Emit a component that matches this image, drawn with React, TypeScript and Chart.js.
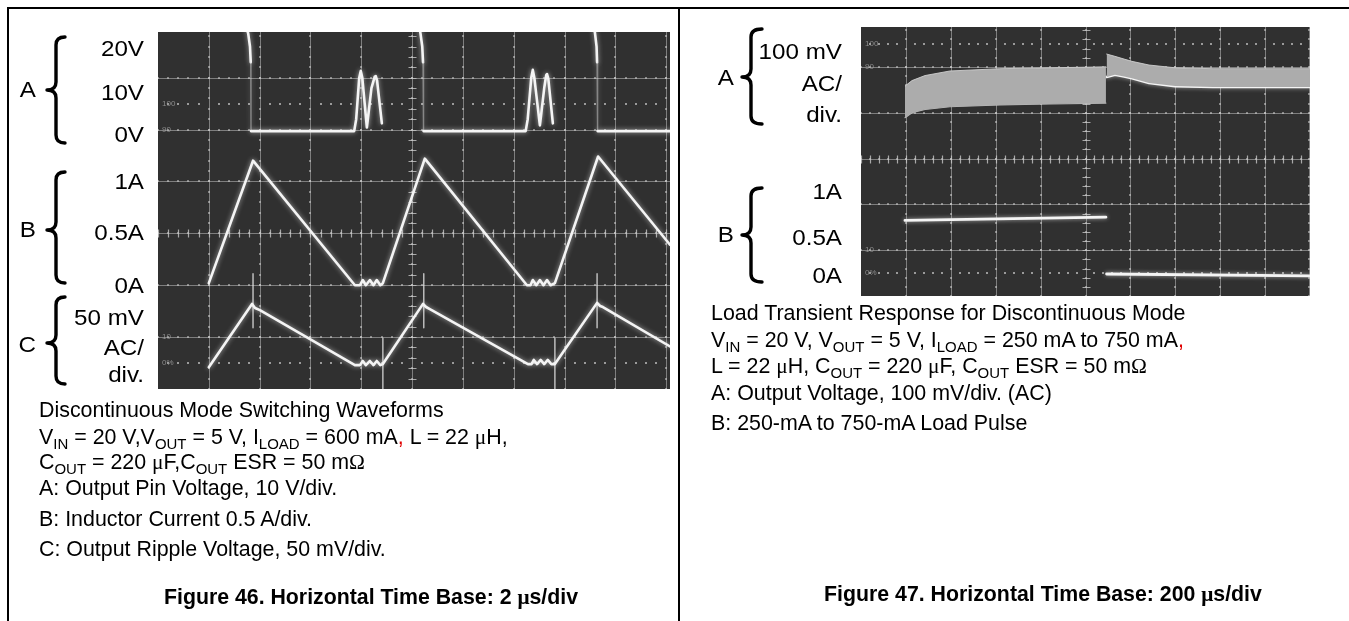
import React, { useEffect, useRef } from "react";
import { Chart, registerables } from "chart.js";

Chart.register(...registerables);

const SANS = '"Liberation Sans", Arial, Helvetica, sans-serif';
const SERIF = '"Liberation Serif", "DejaVu Serif", serif';

// ================= Figure 46 (2 µs/div) =================
const fig46GridTimes = [2, 4, 6, 8, 10, 12, 14, 16, 18, 20];
const fig46GridDivs = [1, 2, 3, 4, 5, 6];
const fig46MarkerDivs = [0.5, 5.5];
const fig46MarkerLabels = ["100", "90", "10", "0%"];
const fig46MarkerLabelDivs = [5.5, 5, 1, 0.5];

// A: output pin voltage (V), 10 V/div
const fig46PinTime = [3.40, 3.55, 3.62, 3.65, 3.66, 7.72, 7.80, 7.92, 7.98, 8.04, 8.22, 8.40, 8.53, 8.57, 8.62, 8.81, 9.5,
  10.25, 10.33, 10.40, 10.43, 10.45, 14.47, 14.55, 14.69, 14.75, 14.81, 15.03, 15.20, 15.28, 15.31, 15.36, 15.54, 16.3,
  17.12, 17.20, 17.26, 17.28, 17.30, 20.30];
const fig46PinVolts = [21, 18.5, 16, 13, -0.3, -0.3, 2, 10, 11.3, 10, 0.4, 8, 10.2, 10.3, 9.5, 1.2, null,
  21, 18.5, 16, 13, -0.3, -0.3, 2, 10, 11.5, 10, 0.8, 8, 10.5, 10.7, 9.8, 1.2, null,
  21, 18.5, 16, 13, -0.3, -0.3];

// B: inductor current (A), 0.5 A/div
const fig46CoilTime = [2.00, 3.74, 7.75, 7.95, 8.06, 8.18, 8.34, 8.48, 8.61, 8.75, 8.85, 10.50, 14.52, 14.66, 14.75, 14.89, 15.03, 15.17, 15.31, 15.45, 15.62, 17.32, 20.15];
const fig46CoilAmps = [0.02, 1.20, 0.00, 0.00, 0.05, 0.00, 0.05, 0.00, 0.05, 0.00, 0.02, 1.22, 0.00, 0.00, 0.05, 0.00, 0.05, 0.00, 0.05, 0.00, 0.02, 1.24, 0.39];

// C: output ripple (mV), 50 mV/div AC
const fig46RippleTime = [2.00, 3.70, 3.82, 4.01, 7.75, 7.95, 8.06, 8.18, 8.34, 8.48, 8.61, 8.75, 8.85, 10.43, 10.55, 10.70, 14.56, 14.70, 14.79, 14.92, 15.06, 15.20, 15.34, 15.48, 15.62, 17.28, 17.40, 17.51, 20.15];
const fig46RippleMv = [-29, 32, 28, 26, -27, -27, -23, -27, -23, -27, -23, -27, -26, 32, 29, 27, -26, -26, -22, -26, -22, -26, -22, -26, -26, 33, 30, 29, -9];
const fig46SpikeTime = [3.74, 3.74, 6.0, 8.85, 8.85, 9.5, 10.46, 10.46, 12.0, 15.62, 15.62, 16.5, 17.28, 17.28];
const fig46SpikeMv = [61, 9, null, -1, -52, null, 61, 9, null, -1, -52, null, 61, 9];

const fig46TimePerDiv = 2;
const fig46TimeMax = 20.15;
const fig46TopDiv = 6.88;
const fig46PinPerDiv = 10, fig46PinZero = 5;
const fig46CoilPerDiv = 0.5, fig46CoilZero = 2;
const fig46RipplePerDiv = 50, fig46RippleZero = 1;

// ================= Figure 47 (200 µs/div) =================
const fig47GridTimes = [200, 400, 600, 800, 1000, 1200, 1400, 1600, 1800, 2000];
const fig47GridDivs = [1, 2, 3, 4, 5];
const fig47MarkerDivs = [0.5, 5.5];
const fig47MarkerLabels = ["100", "90", "10", "0%"];
const fig47MarkerLabelDivs = [5.5, 5, 1, 0.5];

// A: output voltage (mV), 100 mV/div AC — ripple envelope
const fig47StepTime1 = [196, 227, 285, 396, 619, 842, 1091];
const fig47RippleHigh1 = [8, 20, 31, 41, 46, 48, 50];
const fig47RippleLow1 = [-61, -50, -43, -37, -33, -31, -29];
const fig47StepTime2 = [1094, 1131, 1172, 1207, 1283, 1399, 1568, 2000];
const fig47RippleHigh2 = [78, 73, 67, 62, 54, 48, 46, 46];
const fig47RippleLow2 = [28, 33, 29, 25, 15, 8, 6, 6];

// B: load current (A), 0.5 A/div
const fig47LoadTime = [196, 1091, 1092, 1094, 2000];
const fig47LoadAmps = [0.70, 0.735, null, 0.115, 0.095];

const fig47TimePerDiv = 200;
const fig47TimeMax = 2000;
const fig47TopDiv = 5.87;
const fig47RipplePerDiv = 100, fig47RippleZero = 4.5;
const fig47LoadPerDiv = 0.5, fig47LoadZero = 0.25;

// ================= helpers =================
function pts(t: number[], v: (number | null)[]) {
  return t.map((x, i) => ({ x, y: v[i] }));
}

const TRACE = "#f4f4f4";

const glowPlugin = {
  id: "glow",
  beforeDatasetDraw(chart: any, args: any) {
    const ds = chart.data.datasets[args.index];
    chart.ctx.save();
    if (ds.glow) {
      chart.ctx.shadowColor = "rgba(255,255,255,0.6)";
      chart.ctx.shadowBlur = ds.glow;
    }
  },
  afterDatasetDraw(chart: any) {
    chart.ctx.restore();
  },
};

const scopeGridPlugin = {
  id: "scopeGrid",
  beforeDatasetsDraw(chart: any, _a: any, o: any) {
    const { ctx, chartArea: a, scales } = chart;
    const xs = scales.x;
    const yd = scales.yDiv;
    ctx.save();
    ctx.fillStyle = o.background;
    ctx.fillRect(a.left, a.top, a.right - a.left, a.bottom - a.top);
    const X = (v: number) => Math.min(a.right - 1, Math.round(xs.getPixelForValue(v))) + 0.5;
    const Y = (v: number) => Math.max(a.top, Math.round(yd.getPixelForValue(v))) + 0.5;
    ctx.strokeStyle = o.lineColor;
    ctx.lineWidth = 1;
    ctx.beginPath();
    for (const t of o.xLines) { const px = X(t); ctx.moveTo(px, a.top); ctx.lineTo(px, a.bottom); }
    for (const d of o.yLines) { const py = Y(d); ctx.moveTo(a.left, py); ctx.lineTo(a.right, py); }
    ctx.stroke();
    const tStep = o.timePerDiv / 5;
    const nT = Math.floor(xs.max / tStep + 1e-6);
    const nD = Math.floor(yd.max / 0.2 + 1e-6);
    ctx.fillStyle = o.dotColor;
    for (const d of o.yLines) {
      const py = Y(d);
      for (let i = 0; i <= nT; i++) ctx.fillRect(Math.round(xs.getPixelForValue(i * tStep)) - 1, py - 1.5, 2, 2);
    }
    for (const t of o.xLines) {
      const px = X(t);
      for (let i = 0; i <= nD; i++) ctx.fillRect(px - 1.5, Math.round(yd.getPixelForValue(i * 0.2)) - 1, 2, 2);
    }
    const cx = X(o.centerTime);
    const cy = Y(o.centerDiv);
    ctx.strokeStyle = o.axisColor;
    ctx.lineWidth = 1.2;
    ctx.beginPath();
    for (let i = 0; i <= nD; i++) {
      const py = Math.round(yd.getPixelForValue(i * 0.2)) + 0.5;
      ctx.moveTo(cx - 4, py); ctx.lineTo(cx + 4, py);
    }
    for (let i = 0; i <= nT; i++) {
      const px = Math.round(xs.getPixelForValue(i * tStep)) + 0.5;
      ctx.moveTo(px, cy - 4); ctx.lineTo(px, cy + 4);
    }
    ctx.stroke();
    ctx.fillStyle = o.markerColor;
    for (const d of o.markerDivs) {
      const py = Math.round(yd.getPixelForValue(d));
      for (let i = 1; i < nT; i++) {
        if (i % 5 === 0) continue;
        ctx.fillRect(Math.round(xs.getPixelForValue(i * tStep)) - 1, py - 1, 2, 2);
      }
    }
    ctx.font = "8px " + SANS;
    ctx.fillStyle = o.labelColor;
    ctx.textBaseline = "middle";
    o.markerLabels.forEach((lab: string, i: number) => {
      ctx.fillText(lab, a.left + 4, yd.getPixelForValue(o.markerLabelDivs[i]));
    });
    ctx.restore();
  },
};

const baseOptions = (xMax: number, topDiv: number) => ({
  responsive: false,
  animation: false,
  devicePixelRatio: 1,
  events: [],
  spanGaps: false,
  layout: { padding: 0 },
  elements: {
    point: { radius: 0, hoverRadius: 0 },
    line: { tension: 0, borderCapStyle: "round", borderJoinStyle: "round" },
  },
  plugins: { legend: { display: false }, tooltip: { enabled: false } },
  scales: {
    x: { type: "linear", axis: "x", min: 0, max: xMax, display: false },
    yDiv: { type: "linear", axis: "y", min: 0, max: topDiv, display: false },
  } as any,
});

const gridStyle = {
  background: "#303030",
  lineColor: "rgba(175,175,175,0.62)",
  dotColor: "rgba(205,205,205,0.55)",
  axisColor: "rgba(200,200,200,0.8)",
  markerColor: "rgba(200,200,200,0.7)",
  labelColor: "rgba(170,170,170,0.75)",
};

const isEdge = (c: any) =>
  Math.abs(c.p1.parsed.x - c.p0.parsed.x) < 0.05 && Math.abs(c.p1.parsed.y - c.p0.parsed.y) > 5;

function fig46Config(): any {
  const opts: any = baseOptions(fig46TimeMax, fig46TopDiv);
  const ax = (perDiv: number, zero: number) => ({
    type: "linear", axis: "y", display: false,
    min: (0 - zero) * perDiv, max: (fig46TopDiv - zero) * perDiv,
  });
  opts.scales.yA = ax(fig46PinPerDiv, fig46PinZero);
  opts.scales.yB = ax(fig46CoilPerDiv, fig46CoilZero);
  opts.scales.yC = ax(fig46RipplePerDiv, fig46RippleZero);
  opts.plugins.scopeGrid = {
    ...gridStyle,
    xLines: fig46GridTimes, yLines: fig46GridDivs, timePerDiv: fig46TimePerDiv,
    centerTime: 10, centerDiv: 3, markerDivs: fig46MarkerDivs,
    markerLabels: fig46MarkerLabels, markerLabelDivs: fig46MarkerLabelDivs,
  };
  return {
    type: "line",
    data: {
      datasets: [
        {
          label: "A", data: pts(fig46PinTime, fig46PinVolts), yAxisID: "yA",
          borderColor: TRACE, borderWidth: 2.6, glow: 5, fill: false,
          segment: {
            borderColor: (c: any) => (isEdge(c) ? "rgba(225,225,225,0.45)" : undefined),
            borderWidth: (c: any) => (isEdge(c) ? 1.4 : undefined),
          },
        },
        { label: "B", data: pts(fig46CoilTime, fig46CoilAmps), yAxisID: "yB", borderColor: TRACE, borderWidth: 2.6, glow: 5, fill: false },
        { label: "C", data: pts(fig46RippleTime, fig46RippleMv), yAxisID: "yC", borderColor: TRACE, borderWidth: 2.6, glow: 5, fill: false },
        { label: "C spikes", data: pts(fig46SpikeTime, fig46SpikeMv), yAxisID: "yC", borderColor: "rgba(235,235,235,0.8)", borderWidth: 1.4, fill: false },
      ],
    },
    options: opts,
    plugins: [scopeGridPlugin, glowPlugin],
  };
}

function fig47Config(): any {
  const opts: any = baseOptions(fig47TimeMax, fig47TopDiv);
  const ax = (perDiv: number, zero: number) => ({
    type: "linear", axis: "y", display: false,
    min: (0 - zero) * perDiv, max: (fig47TopDiv - zero) * perDiv,
  });
  opts.scales.yA = ax(fig47RipplePerDiv, fig47RippleZero);
  opts.scales.yB = ax(fig47LoadPerDiv, fig47LoadZero);
  opts.plugins.scopeGrid = {
    ...gridStyle,
    xLines: fig47GridTimes, yLines: fig47GridDivs, timePerDiv: fig47TimePerDiv,
    centerTime: 1000, centerDiv: 3, markerDivs: fig47MarkerDivs,
    markerLabels: fig47MarkerLabels, markerLabelDivs: fig47MarkerLabelDivs,
  };
  const band = "rgb(172,172,172)";
  return {
    type: "line",
    data: {
      datasets: [
        { label: "A high 1", data: pts(fig47StepTime1, fig47RippleHigh1), yAxisID: "yA", borderColor: "rgba(205,205,205,0.9)", borderWidth: 1, fill: "+1", backgroundColor: band },
        { label: "A low 1", data: pts(fig47StepTime1, fig47RippleLow1), yAxisID: "yA", borderColor: "rgba(200,200,200,0.9)", borderWidth: 1.2, fill: false },
        { label: "A high 2", data: pts(fig47StepTime2, fig47RippleHigh2), yAxisID: "yA", borderColor: "rgba(205,205,205,0.9)", borderWidth: 1, fill: "+1", backgroundColor: band },
        { label: "A low 2", data: pts(fig47StepTime2, fig47RippleLow2), yAxisID: "yA", borderColor: TRACE, borderWidth: 2.6, glow: 4, fill: false },
        { label: "B", data: pts(fig47LoadTime, fig47LoadAmps), yAxisID: "yB", borderColor: TRACE, borderWidth: 2.8, glow: 4, fill: false },
      ],
    },
    options: opts,
    plugins: [scopeGridPlugin, glowPlugin],
  };
}

function ScopeCanvas({ left, top, width, height, make }: any) {
  const ref = useRef<HTMLCanvasElement>(null);
  useEffect(() => {
    const chart = new Chart(ref.current as HTMLCanvasElement, make());
    return () => chart.destroy();
  }, []);
  return (
    <canvas
      ref={ref}
      width={width}
      height={height}
      style={{ position: "absolute", left, top, width, height, display: "block" }}
    />
  );
}

// ================= text helpers =================
const Sub = ({ children }: any) => (
  <span style={{ fontSize: "0.7em", position: "relative", top: "0.32em" }}>{children}</span>
);
const Sym = ({ children }: any) => <span style={{ fontFamily: SERIF }}>{children}</span>;
const RedComma = () => <span style={{ color: "#e00000" }}>,</span>;

function TextLine({ x, y, children, bold, center }: any) {
  return (
    <div
      style={{
        position: "absolute", left: x, top: y - 13, fontSize: bold ? 21.3 : 21.4, lineHeight: "26px",
        fontWeight: bold ? "bold" : "normal", whiteSpace: "nowrap",
        transform: center ? "translateX(-50%)" : undefined,
      }}
    >
      {children}
    </div>
  );
}

function ScaleLabel({ right, y, text }: any) {
  return (
    <div
      style={{
        position: "absolute", left: right, top: y - 13, fontSize: 22, lineHeight: "26px", whiteSpace: "nowrap",
        transform: "translateX(-100%) scaleX(1.1)", transformOrigin: "100% 50%",
      }}
    >
      {text}
    </div>
  );
}

function bracePath(tip: number, stem: number, hook: number, y1: number, ym: number, y2: number) {
  const r = 8;
  return `M ${hook} ${y1} Q ${stem} ${y1} ${stem} ${y1 + r} L ${stem} ${ym - r} Q ${stem} ${ym} ${tip} ${ym} ` +
    `Q ${stem} ${ym} ${stem} ${ym + r} L ${stem} ${y2 - r} Q ${stem} ${y2} ${hook} ${y2}`;
}

export default function App() {
  return (
    <div
      style={{
        position: "absolute", left: 0, top: 0, width: 1349, height: 621, background: "#fff",
        overflow: "hidden", fontFamily: SANS, color: "#000",
      }}
    >
      {/* frame */}
      <div style={{ position: "absolute", left: 7, top: 7, width: 1342, height: 2, background: "#000" }} />
      <div style={{ position: "absolute", left: 7, top: 7, width: 2, height: 614, background: "#000" }} />
      <div style={{ position: "absolute", left: 678, top: 7, width: 2, height: 614, background: "#000" }} />

      <ScopeCanvas left={158} top={32} width={512} height={357} make={fig46Config} />
      <ScopeCanvas left={861} top={27} width={449} height={269} make={fig47Config} />

      <svg width={1349} height={621} style={{ position: "absolute", left: 0, top: 0, pointerEvents: "none" }}>
        <g fill="none" stroke="#000" strokeWidth={3.4} strokeLinecap="round" strokeLinejoin="round">
          <path d={bracePath(47, 56, 65, 37, 90, 143)} />
          <path d={bracePath(47, 56, 65, 172, 230, 283)} />
          <path d={bracePath(47, 56, 65, 297, 343, 384)} />
          <path d={bracePath(742, 751, 762, 29, 77, 124)} />
          <path d={bracePath(742, 751, 762, 188, 235, 282)} />
        </g>
      </svg>

      {/* left scale labels */}
      <ScaleLabel right={36} y={90} text="A" />
      <ScaleLabel right={36} y={230} text="B" />
      <ScaleLabel right={36} y={345} text="C" />
      <ScaleLabel right={144} y={49} text="20V" />
      <ScaleLabel right={144} y={93} text="10V" />
      <ScaleLabel right={144} y={135} text="0V" />
      <ScaleLabel right={144} y={182} text="1A" />
      <ScaleLabel right={144} y={233} text="0.5A" />
      <ScaleLabel right={144} y={286} text="0A" />
      <ScaleLabel right={144} y={318} text="50 mV" />
      <ScaleLabel right={144} y={348} text="AC/" />
      <ScaleLabel right={144} y={375} text="div." />

      {/* right scale labels */}
      <ScaleLabel right={734} y={78} text="A" />
      <ScaleLabel right={734} y={235} text="B" />
      <ScaleLabel right={842} y={52} text="100 mV" />
      <ScaleLabel right={842} y={84} text="AC/" />
      <ScaleLabel right={842} y={115} text="div." />
      <ScaleLabel right={842} y={192} text="1A" />
      <ScaleLabel right={842} y={238} text="0.5A" />
      <ScaleLabel right={842} y={276} text="0A" />

      {/* left captions */}
      <TextLine x={39} y={410}>Discontinuous Mode Switching Waveforms</TextLine>
      <TextLine x={39} y={437}>
        V<Sub>IN</Sub> = 20 V,V<Sub>OUT</Sub> = 5 V, I<Sub>LOAD</Sub> = 600 mA<RedComma /> L = 22 <Sym>μ</Sym>H,
      </TextLine>
      <TextLine x={39} y={462}>
        C<Sub>OUT</Sub> = 220 <Sym>μ</Sym>F,C<Sub>OUT</Sub> ESR = 50 m<Sym>Ω</Sym>
      </TextLine>
      <TextLine x={39} y={488}>A: Output Pin Voltage, 10 V/div.</TextLine>
      <TextLine x={39} y={519}>B: Inductor Current 0.5 A/div.</TextLine>
      <TextLine x={39} y={549}>C: Output Ripple Voltage, 50 mV/div.</TextLine>
      <TextLine x={371} y={597} bold center>
        Figure 46. Horizontal Time Base: 2 <Sym>μ</Sym>s/div
      </TextLine>

      {/* right captions */}
      <TextLine x={711} y={313}>Load Transient Response for Discontinuous Mode</TextLine>
      <TextLine x={711} y={340}>
        V<Sub>IN</Sub> = 20 V, V<Sub>OUT</Sub> = 5 V, I<Sub>LOAD</Sub> = 250 mA to 750 mA<RedComma />
      </TextLine>
      <TextLine x={711} y={366}>
        L = 22 <Sym>μ</Sym>H, C<Sub>OUT</Sub> = 220 <Sym>μ</Sym>F, C<Sub>OUT</Sub> ESR = 50 m<Sym>Ω</Sym>
      </TextLine>
      <TextLine x={711} y={393}>A: Output Voltage, 100 mV/div. (AC)</TextLine>
      <TextLine x={711} y={423}>B: 250-mA to 750-mA Load Pulse</TextLine>
      <TextLine x={1043} y={594} bold center>
        Figure 47. Horizontal Time Base: 200 <Sym>μ</Sym>s/div
      </TextLine>
    </div>
  );
}
